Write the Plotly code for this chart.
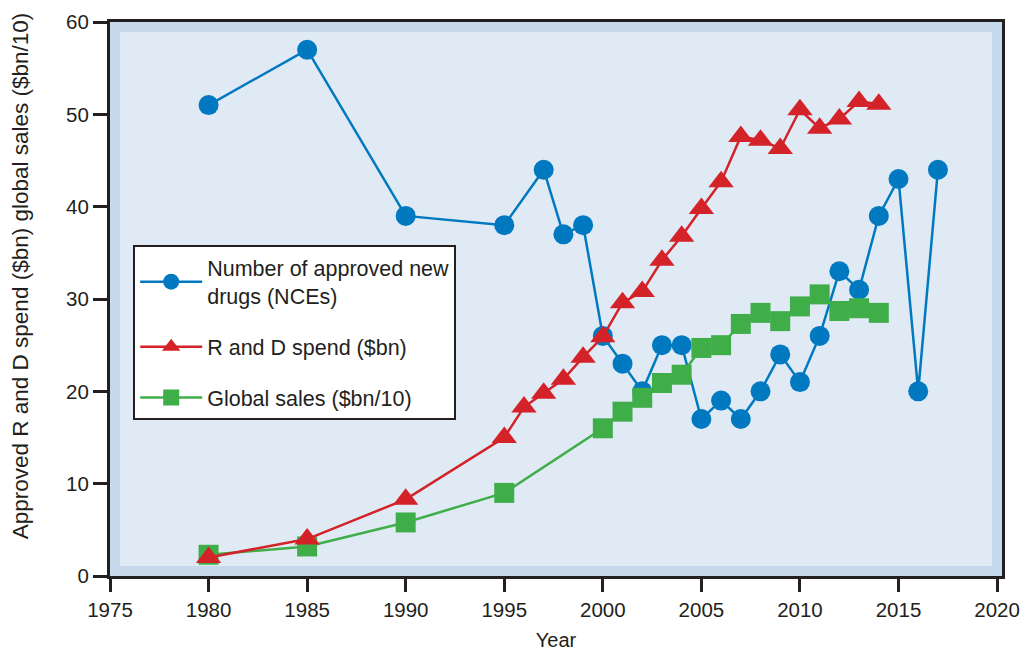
import plotly.graph_objects as go

nce_years = [1980, 1985, 1990, 1995, 1997, 1998, 1999, 2000, 2001, 2002, 2003, 2004, 2005,
             2006, 2007, 2008, 2009, 2010, 2011, 2012, 2013, 2014, 2015, 2016, 2017]
nce_values = [51, 57, 39, 38, 44, 37, 38, 26, 23, 20, 25, 25, 17,
              19, 17, 20, 24, 21, 26, 33, 31, 39, 43, 20, 44]

rd_years = [1980, 1985, 1990, 1995, 1996, 1997, 1998, 1999, 2000, 2001, 2002, 2003, 2004,
            2005, 2006, 2007, 2008, 2009, 2010, 2011, 2012, 2013, 2014]
rd_values = [2.0, 4.0, 8.3, 15.0, 18.3, 19.8, 21.3, 23.7, 25.9, 29.6, 30.8, 34.2, 36.8,
             39.8, 42.7, 47.6, 47.2, 46.3, 50.5, 48.5, 49.5, 51.4, 51.1]

sales_years = [1980, 1985, 1990, 1995, 2000, 2001, 2002, 2003, 2004, 2005, 2006, 2007,
               2008, 2009, 2010, 2011, 2012, 2013, 2014]
sales_values = [2.3, 3.2, 5.8, 9.0, 16.0, 17.8, 19.3, 20.9, 21.8, 24.7, 25.0, 27.3,
                28.5, 27.6, 29.2, 30.5, 28.7, 29.0, 28.5]

x_ticks = list(range(1975, 2021, 5))
y_ticks = list(range(0, 61, 10))

BLUE = "#0079c1"
RED = "#d42229"
GREEN = "#3fae49"
INK = "#231f20"
FONT = "Liberation Sans, Arial, sans-serif"

fig = go.Figure()
fig.add_trace(go.Scatter(
    x=nce_years, y=nce_values, mode="lines+markers",
    name="Number of approved new<br>drugs (NCEs)", legendgroup="a", legendrank=1,
    line=dict(color=BLUE, width=2.5),
    marker=dict(symbol="circle", size=20, color=BLUE)))
fig.add_trace(go.Scatter(
    x=sales_years, y=sales_values, mode="lines+markers",
    name="Global sales ($bn/10)", legendgroup="c", legendrank=3,
    line=dict(color=GREEN, width=2.5),
    marker=dict(symbol="square", size=20, color=GREEN)))
fig.add_trace(go.Scatter(
    x=rd_years, y=rd_values, mode="lines+markers",
    name="R and D spend ($bn)", legendgroup="b", legendrank=2,
    line=dict(color=RED, width=2.5),
    marker=dict(symbol="triangle-up", size=22, color=RED)))

# page body has an 8px margin: figure is 1020x643, placed at (8, 8)
fig.update_layout(
    width=1020, height=643,
    margin=dict(l=102, r=26, t=14, b=75),
    paper_bgcolor="white",
    plot_bgcolor="#c5d8ec",
    font=dict(family=FONT, size=20, color=INK),
    showlegend=True,
    legend=dict(
        x=0.026, y=0.597, xanchor="left", yanchor="top",
        bgcolor="white", bordercolor=INK, borderwidth=2,
        font=dict(size=21.5, family=FONT, color=INK),
        tracegroupgap=20, itemwidth=62,
    ),
    shapes=[dict(type="rect", xref="paper", yref="paper",
                 x0=0.0112, x1=0.9888, y0=0.018, y1=0.982,
                 fillcolor="#e0eaf5", line=dict(width=0), layer="below")],
    annotations=[dict(
        text="Approved R and D spend ($bn) global sales ($bn/10)",
        textangle=-90, xref="paper", yref="paper",
        x=-0.1003, y=0.542, xanchor="center", yanchor="middle",
        showarrow=False, font=dict(size=22.5, family=FONT, color=INK))],
)
fig.update_xaxes(
    range=[1975, 2020.25], tickmode="array", tickvals=x_ticks,
    ticks="outside", ticklen=13, tickwidth=3, tickcolor=INK,
    tickfont=dict(size=20.5, family=FONT, color=INK),
    showline=True, linecolor=INK, linewidth=3, mirror=True,
    showgrid=False, zeroline=False, automargin=False,
    title=dict(text="Year", font=dict(size=20), standoff=32),
)
fig.update_yaxes(
    range=[0, 60], tickmode="array", tickvals=y_ticks,
    ticks="outside", ticklen=14, tickwidth=3, tickcolor=INK,
    tickfont=dict(size=20.5, family=FONT, color=INK),
    showline=True, linecolor=INK, linewidth=3, mirror=True,
    showgrid=False, zeroline=False, automargin=False,
)

fig.write_html("out.html")
